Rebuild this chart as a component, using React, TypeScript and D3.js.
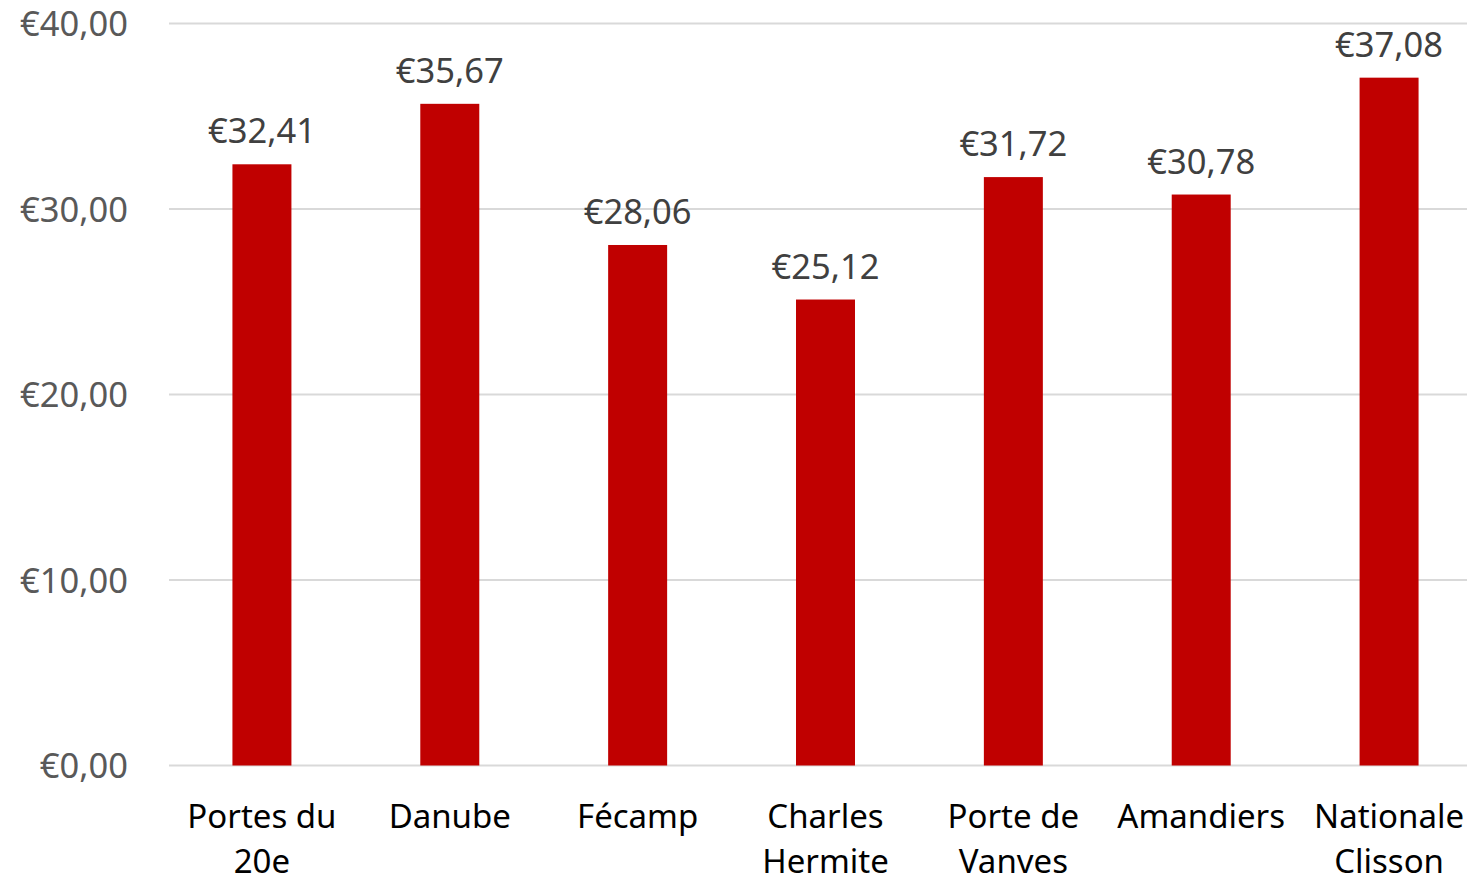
import React from "react";
import * as d3 from "d3";

const categories: string[][] = [
  ["Portes du", "20e"],
  ["Danube"],
  ["Fécamp"],
  ["Charles", "Hermite"],
  ["Porte de", "Vanves"],
  ["Amandiers"],
  ["Nationale", "Clisson"],
];
const values: number[] = [32.41, 35.67, 28.06, 25.12, 31.72, 30.78, 37.08];
const yTicks: number[] = [0, 10, 20, 30, 40];

const W = 1467;
const H = 878;
const FONT = "'Noto Sans', sans-serif";

const fmt = (v: number) => "€" + v.toFixed(2).replace(".", ",");

export default function App() {
  const keys = categories.map((c) => c.join(" "));
  const x = d3
    .scaleBand<string>()
    .domain(keys)
    .range([168, 1483])
    .paddingInner(0.686)
    .paddingOuter(0.343);
  const y = d3.scaleLinear().domain([0, 40]).range([765.5, 23.5]);
  const bw = x.bandwidth();

  return (
    <svg
      width={W}
      height={H}
      style={{ position: "absolute", left: 0, top: 0, background: "#fff" }}
      fontFamily={FONT}
    >
      {yTicks.map((t) => (
        <g key={t}>
          <line x1={169} x2={W} y1={y(t)} y2={y(t)} stroke="#D9D9D9" strokeWidth={2} />
          <text
            x={128}
            y={y(t) + 12.5}
            textAnchor="end"
            fontSize={34.5}
            fill="#595959"
          >
            {fmt(t)}
          </text>
        </g>
      ))}
      {values.map((v, i) => {
        const k = keys[i];
        const x0 = x(k) as number;
        const cx = x0 + bw / 2;
        return (
          <g key={k}>
            <rect x={x0} y={y(v)} width={bw} height={y(0) - y(v)} fill="#C00000" />
            <text
              x={cx}
              y={y(v) - 21}
              textAnchor="middle"
              fontSize={34.5}
              fill="#404040"
            >
              {fmt(v)}
            </text>
            {categories[i].map((line, j) => (
              <text
                key={j}
                x={cx}
                y={828 + j * 44.5}
                textAnchor="middle"
                fontSize={33}
                fill="#000"
              >
                {line}
              </text>
            ))}
          </g>
        );
      })}
    </svg>
  );
}
